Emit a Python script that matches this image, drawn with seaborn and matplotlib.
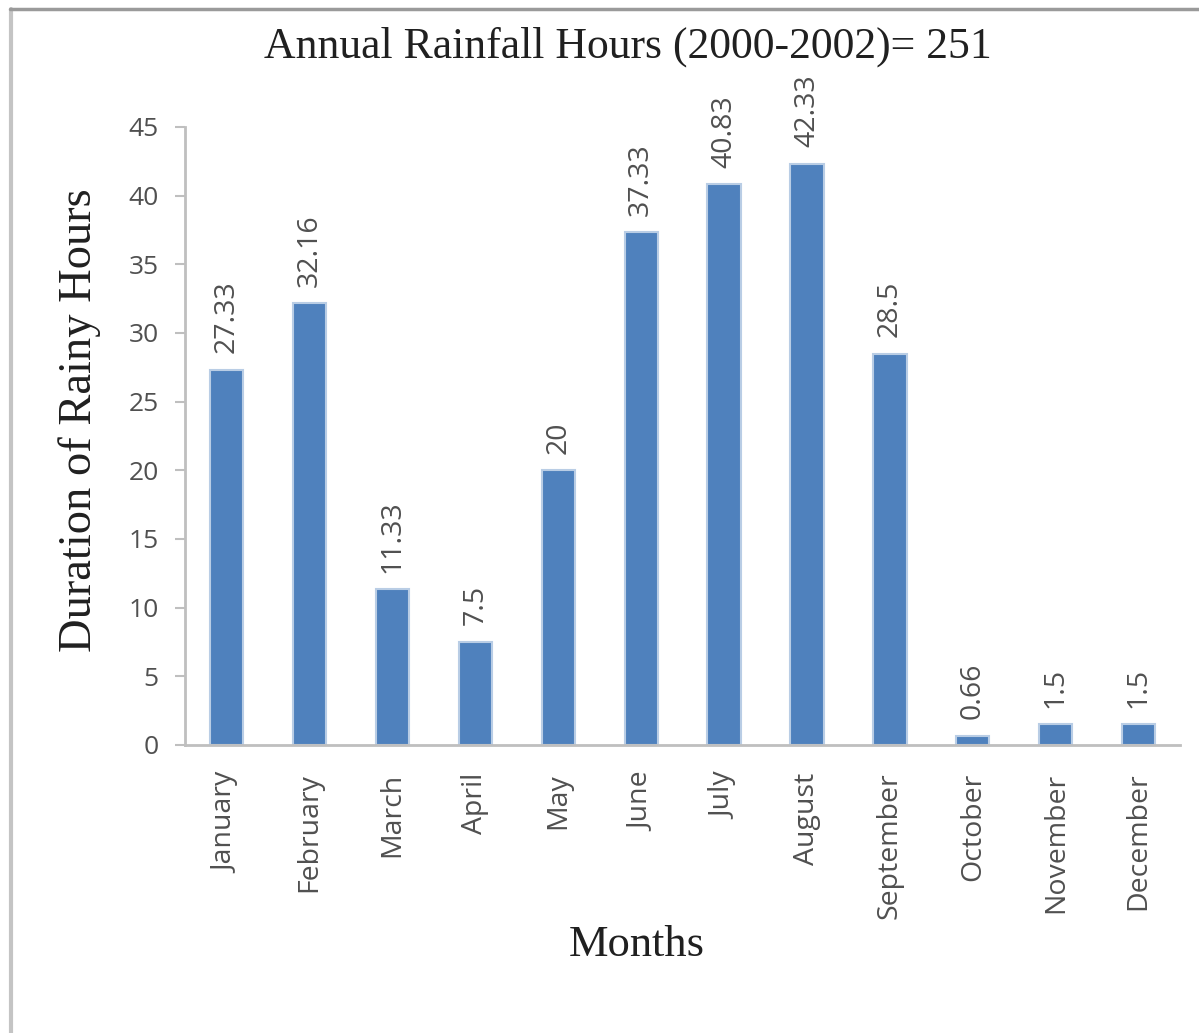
import matplotlib
matplotlib.use("Agg")
import matplotlib.pyplot as plt
import seaborn as sns
import pandas as pd
from matplotlib.lines import Line2D

months = ["January", "February", "March", "April", "May", "June", "July",
          "August", "September", "October", "November", "December"]
hours = [27.33, 32.16, 11.33, 7.5, 20, 37.33, 40.83, 42.33, 28.5, 0.66, 1.5, 1.5]
value_labels = ["27.33", "32.16", "11.33", "7.5", "20", "37.33", "40.83",
                "42.33", "28.5", "0.66", "1.5", "1.5"]
y_ticks = [0, 5, 10, 15, 20, 25, 30, 35, 40, 45]

df = pd.DataFrame({"Month": months, "Hours": hours})

sns.set_theme(style="white")
plt.rcParams["font.family"] = ["Open Sans", "DejaVu Sans"]

fig = plt.figure(figsize=(11.99, 10.33), dpi=100)
ax = fig.add_axes([0.1543, 0.2788, 0.830, 0.5983])

sns.barplot(data=df, x="Month", y="Hours", ax=ax, color="#4F81BD",
            saturation=1, width=0.40, edgecolor="#B9CDE5", linewidth=1.5)

ax.set_xlim(-0.5, 11.5)
ax.set_ylim(0, 45)
ax.set_yticks(y_ticks)
ax.set_yticklabels([str(t) for t in y_ticks], fontsize=19, color="#505050")
ax.set_xticks(range(len(months)))
ax.set_xticklabels(months, rotation=90, fontsize=20.5, color="#505050")

for i, (v, lab) in enumerate(zip(hours, value_labels)):
    ax.annotate(lab, (i, v), xytext=(0, 12), textcoords="offset points",
                rotation=90, ha="center", va="bottom", fontsize=20.5,
                color="#505050")

for side in ["top", "right"]:
    ax.spines[side].set_visible(False)
for side in ["left", "bottom"]:
    ax.spines[side].set_color("#BFBFBF")
    ax.spines[side].set_linewidth(2.0)

ax.tick_params(axis="y", which="major", left=True, length=7, width=1.5,
               color="#BFBFBF", pad=12)
ax.tick_params(axis="x", which="major", bottom=False, pad=14)

ax.set_xlabel("Months", family="Liberation Serif", fontsize=32,
              color="#202020")
ax.xaxis.label.set_va("center")
ax.xaxis.set_label_coords(0.454, -0.324)

ax.set_ylabel("Duration of Rainy Hours", family="Liberation Serif",
              fontsize=33.5, color="#202020")
ax.yaxis.label.set_va("center")
ax.yaxis.set_label_coords(-0.1055, 0.526)

fig.text(0.524, 0.955, "Annual Rainfall Hours (2000-2002)= 251",
         family="Liberation Serif", fontsize=31.5, color="#202020",
         ha="center", va="center")

# light frame around the chart area (left and top edges)
fig.add_artist(Line2D([0.009, 0.009], [0.0, 0.991], transform=fig.transFigure,
                      color="#C4C4C4", linewidth=3))
fig.add_artist(Line2D([0.008, 1.0], [0.991, 0.991], transform=fig.transFigure,
                      color="#9A9A9A", linewidth=2.5))

fig.savefig("out.png", dpi=100)
